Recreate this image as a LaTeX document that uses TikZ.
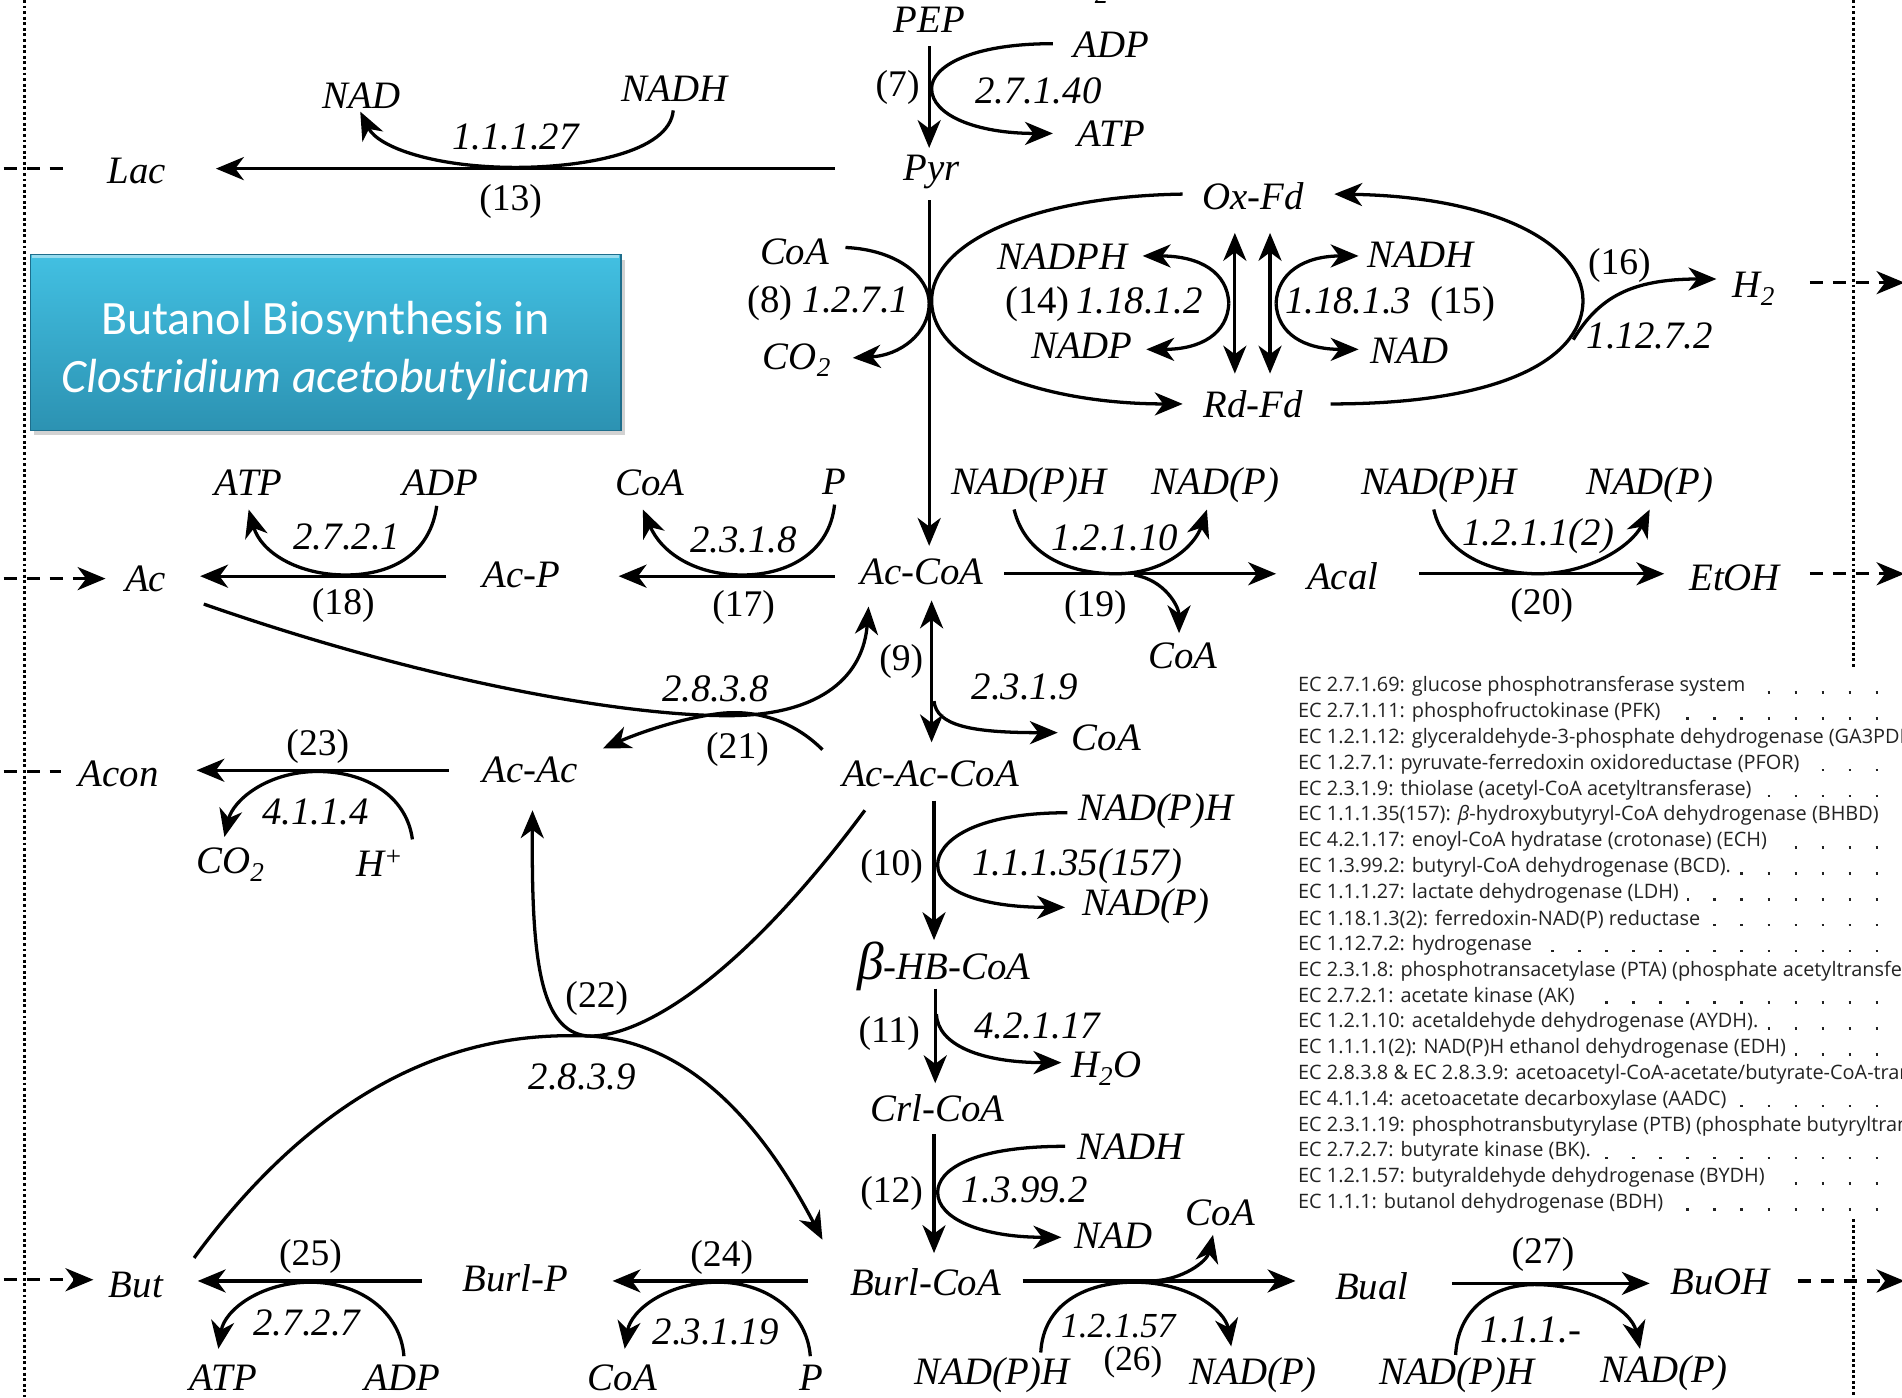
\documentclass[tikz,border=0pt]{standalone}
\usepackage{fontspec}
\setmainfont{Liberation Serif}
\newfontfamily\carl{Carlito}
\newfontfamily\osans{Open Sans}
\usetikzlibrary{arrows.meta,shadows}
\newcommand\lfont{\fontsize{32}{36}\selectfont\itshape}
\newcommand\nfont{\fontsize{31}{36}\selectfont\upshape}
\newcommand\legfont{\osans\fontsize{16.4}{19}\selectfont}
\definecolor{tealtop}{RGB}{66,192,226}
\definecolor{tealbot}{RGB}{44,146,178}
\definecolor{tealedge}{RGB}{30,110,140}
\definecolor{legtext}{RGB}{35,35,35}
\tikzset{
  >={Stealth[length=23pt,width=19pt,inset=7pt]},
  lab/.style={font=\lfont, inner sep=0pt},
  num/.style={font=\nfont, inner sep=0pt},
  ln/.style={line width=2.7pt},
  arr/.style={line width=2.7pt,->},
  darr/.style={line width=2.7pt,<->},
  dsh/.style={line width=2.7pt,dash pattern=on 11pt off 8pt},
  dsharr/.style={line width=2.7pt,dash pattern=on 11pt off 8pt,->},
  dotv/.style={line width=2.4pt,dash pattern=on 2.4pt off 2.2pt},
  ldots/.style={line width=2pt,dash pattern=on 2pt off 20.3pt,legtext},
  leg/.style={font=\legfont, text=legtext, fill=white, anchor=west, inner xsep=7pt, inner ysep=1pt},
}
\begin{document}
\begin{tikzpicture}[x=1pt,y=-1pt]
\useasboundingbox (0,0) rectangle (1568,1152);
\fill[white] (0,0) rectangle (1568,1152);
\clip (0,0) rectangle (1568,1152);

% vertical dotted boundaries
\draw[dotv] (20,0) coordinate (vl1) -- (20,1152) coordinate (vl2);
\draw[dotv] (1528,0) coordinate (vr1) -- (1528,550) coordinate (vr2);
\draw[dotv] (1528,1005) coordinate (vr3) -- (1528,1152) coordinate (vr4);

% title box
\node[draw=tealedge, line width=1pt, top color=tealtop, bottom color=tealbot,
      minimum width=487pt, minimum height=145pt, inner sep=0pt,
      drop shadow={opacity=0.35,shadow xshift=3pt,shadow yshift=-4pt}]
  (title) at (268.5,282.5) {};
\draw[white,opacity=0.45,line width=2pt] ([shift={(2pt,-2pt)}]title.north west) -- ([shift={(-2pt,-2pt)}]title.north east);
\node[text=white, align=center, font=\carl\fontsize{39.5}{48}\selectfont, inner sep=0pt]
  (titletext) at (268.5,289) {Butanol Biosynthesis in\\\textit{Clostridium acetobutylicum}};

% ---------- labels ----------
\node[lab,font=\fontsize{22}{22}\selectfont\itshape] (top2) at (908,-4) {2};
\node[lab] (pep) at (766,16) {PEP};
\node[lab] (adp7) at (916,37) {ADP};
\node[num] (r7) at (740,72) {(7)};
\node[lab] (ec7) at (856,75) {2.7.1.40};
\node[lab] (atp7) at (916,110) {ATP};
\node[lab] (pyr) at (768,142) {Pyr};
\node[lab] (nad13) at (298,79) {NAD};
\node[lab] (nadh13) at (556,73) {NADH};
\node[lab] (ec13) at (425,113) {1.1.1.27};
\node[lab] (lac) at (113,141) {Lac};
\node[num] (r13) at (421,166) {(13)};
\node[lab] (oxfd) at (1033,162) {Ox-Fd};
\node[lab] (rdfd) at (1033,333) {Rd-Fd};
\node[lab] (nadph14) at (876,212) {NADPH};
\node[lab] (nadp14) at (892,285) {NADP};
\node[lab] (ec14) at (910,251) {\upshape(14)\itshape\,1.18.1.2};
\node[lab] (nadh15) at (1171,210) {NADH};
\node[lab] (nad15) at (1162,289) {NAD};
\node[lab] (ec15) at (1146,251) {1.18.1.3\enspace\upshape(15)};
\node[num] (r16) at (1335,219) {(16)};
\node[lab] (h2) at (1446,238) {H\textsubscript{2}};
\node[lab] (ec16) at (1360,277) {1.12.7.2};
\node[lab] (coa8) at (655,208) {CoA};
\node[lab] (ec8) at (683,250) {\upshape(8)\itshape\ 1.2.7.1};
\node[lab] (co28) at (657,297) {CO\textsubscript{2}};

\node[lab] (accoa) at (760,471) {Ac-CoA};
\node[lab] (nadph19) at (848,400) {NAD(P)H};
\node[lab] (nadp19) at (1002,400) {NAD(P)};
\node[lab] (ec19) at (919,443) {1.2.1.10};
\node[num] (r19) at (903,501) {(19)};
\node[lab] (coa19) at (975,541) {CoA};
\node[lab] (acal) at (1107,475) {Acal};
\node[lab] (nadph20) at (1186,400) {NAD(P)H};
\node[lab] (nadp20) at (1360,400) {NAD(P)};
\node[lab] (ec20) at (1268,442) {1.2.1.1(2)};
\node[num] (r20) at (1271,499) {(20)};
\node[lab] (etoh) at (1430,476) {EtOH};
\node[lab] (ac) at (120,477) {Ac};
\node[lab] (atp18) at (205,398) {ATP};
\node[lab] (adp18) at (363,398) {ADP};
\node[lab] (ec18) at (286,443) {2.7.2.1};
\node[lab] (acp) at (430,474) {Ac-P};
\node[num] (r18) at (283,499) {(18)};
\node[lab] (coa17) at (536,398) {CoA};
\node[lab] (p17) at (688,397) {P};
\node[lab] (ec17) at (613,445) {2.3.1.8};
\node[num] (r17) at (613,501) {(17)};

\node[num] (r9) at (743,545) {(9)};
\node[lab] (ec9) at (845,566) {2.3.1.9};
\node[lab] (coa9) at (912,608) {CoA};
\node[lab] (acaccoa) at (767,638) {Ac-Ac-CoA};
\node[lab] (ec21) at (590,568) {2.8.3.8};
\node[num] (r21) at (608,618) {(21)};
\node[lab] (acac) at (437,635) {Ac-Ac};
\node[num] (r23) at (262,615) {(23)};
\node[lab] (acon) at (98,638) {Acon};
\node[lab] (ec23) at (260,669) {4.1.1.4};
\node[lab] (co223) at (190,713) {CO\textsubscript{2}};
\node[lab] (hp) at (313,712) {H\textsuperscript{+}};

\node[lab] (nadph10) at (953,669) {NAD(P)H};
\node[num] (r10) at (735,714) {(10)};
\node[lab] (ec10) at (888,714) {1.1.1.35(157)};
\node[lab] (nadp10) at (945,747) {NAD(P)};
\node[lab] (bhb) at (778,797) {{\fontsize{44}{44}\selectfont β}-HB-CoA};
\node[num] (r11) at (733,852) {(11)};
\node[lab] (ec11) at (855,846) {4.2.1.17};
\node[lab] (h2o) at (912,881) {H\textsubscript{2}O};
\node[lab] (crl) at (773,914) {Crl-CoA};
\node[lab] (nadh12) at (932,945) {NADH};
\node[num] (r12) at (735,984) {(12)};
\node[lab] (ec12) at (845,981) {1.3.99.2};
\node[lab] (nad12) at (918,1019) {NAD};
\node[lab] (coa26) at (1006,1000) {CoA};
\node[lab] (burlcoa) at (763,1057) {Burl-CoA};
\node[lab] (bual) at (1131,1060) {Bual};
\node[num] (r27) at (1272,1034) {(27)};
\node[lab] (buoh) at (1418,1057) {BuOH};
\node[lab,font=\fontsize{29}{32}\selectfont\itshape] (ec26) at (922,1093) {1.2.1.57};
\node[num,font=\fontsize{29}{32}\selectfont] (r26) at (934,1123) {(26)};
\node[lab] (nadph26) at (818,1134) {NAD(P)H};
\node[lab] (nadp26) at (1033,1134) {NAD(P)};
\node[lab] (ec27) at (1262,1096) {1.1.1.-};
\node[lab] (nadph27) at (1201,1134) {NAD(P)H};
\node[lab] (nadp27) at (1372,1132) {NAD(P)};
\node[num] (r22) at (492,823) {(22)};
\node[lab] (ec22) at (480,888) {2.8.3.9};
\node[lab] (but) at (112,1059) {But};
\node[num] (r25) at (256,1036) {(25)};
\node[lab] (burlp) at (425,1054) {Burl-P};
\node[num] (r24) at (595,1037) {(24)};
\node[lab] (ec25) at (253,1091) {2.7.2.7};
\node[lab] (atp25) at (184,1136) {ATP};
\node[lab] (adp25) at (332,1136) {ADP};
\node[lab] (ec24) at (590,1098) {2.3.1.19};
\node[lab] (coa24) at (513,1136) {CoA};
\node[lab] (p24) at (669,1136) {P};

% ---------- main arrows ----------
\draw[arr] (766,38) coordinate (pepS) -- (766,122) coordinate (pyrN);
\draw[arr] (688,139) coordinate (pyrW) -- (178,139) coordinate (lacE);
\draw[arr] (766,165) coordinate (pyrS) -- (766,450) coordinate (accoaN);
\draw[arr] (828,473) coordinate (accoaE) -- (1052,473) coordinate (acalW);
\draw[arr] (1170,473) coordinate (acalE) -- (1372,473) coordinate (etohW);
\draw[arr] (688,475) coordinate (accoaW) -- (510,475) coordinate (acpE);
\draw[arr] (368,475) coordinate (acpW) -- (165,475) coordinate (acE);
\draw[darr] (768,495) coordinate (accoaS) -- (768,612) coordinate (acaccoaN);
\draw[arr] (370,635) coordinate (acacW) -- (162,635) coordinate (aconE);
\draw[arr] (770,660) coordinate (acaccoaS) -- (770,775) coordinate (bhbN);
\draw[arr] (771,815) coordinate (bhbS) -- (771,893) coordinate (crlN);
\draw[arr] (770,935) coordinate (crlS) -- (770,1033) coordinate (burlN);
\draw[arr] (843,1056) coordinate (burlE) -- (1068,1056) coordinate (bualW);
\draw[arr] (1197,1058) coordinate (bualE) -- (1360,1058) coordinate (buohW);
\draw[arr] (666,1056) coordinate (burlW) -- (505,1056) coordinate (burlpE);
\draw[arr] (348,1056) coordinate (burlpW) -- (163,1056) coordinate (butE);

% ---------- side reactions ----------
% (7)
\draw[arr] (868,36) coordinate (s7a) .. controls (800,36) and (768,55) .. (768,73) .. controls (768,95) and (805,110) .. (868,110) coordinate (s7b);
% (13)
\draw[arr] (555,91) coordinate (s13a) .. controls (552,126) and (480,138) .. (425,138) .. controls (360,138) and (312,122) .. (297,92) coordinate (s13b);
% (8)
\draw[arr] (697,204) coordinate (s8a) .. controls (740,206) and (766,228) .. (766,250) .. controls (766,275) and (742,293) .. (703,295) coordinate (s8b);
% ferredoxin cycle
\draw[arr] (975,160) coordinate (oxW) .. controls (850,162) and (768,200) .. (768,248) .. controls (768,300) and (860,333) .. (975,333) coordinate (rdW);
\draw[arr] (1097,333) coordinate (rdE) .. controls (1250,333) and (1305,290) .. (1305,248) .. controls (1305,200) and (1230,162) .. (1100,160) coordinate (oxE);
\draw[arr] (1297,280) coordinate (s16a) .. controls (1318,245) and (1345,230) .. (1415,230) coordinate (h2W);
\draw[darr] (1018,192) coordinate (d1a) -- (1018,308) coordinate (d1b);
\draw[darr] (1047,192) coordinate (d2a) -- (1047,308) coordinate (d2b);
\draw[arr] (1013,250) coordinate (s14) .. controls (1012,225) and (990,211) .. (942,211) coordinate (s14a);
\draw[arr] (s14) .. controls (1012,275) and (990,288) .. (945,288) coordinate (s14b);
\draw[arr] (1052,250) coordinate (s15) .. controls (1053,225) and (1075,211) .. (1120,211) coordinate (s15a);
\draw[arr] (s15) .. controls (1053,275) and (1075,288) .. (1120,288) coordinate (s15b);
% (19)
\draw[arr] (836,420) coordinate (s19a) .. controls (845,457) and (880,473) .. (920,473) .. controls (960,473) and (985,450) .. (995,420) coordinate (s19b);
\draw[arr] (935,474) coordinate (s19c) .. controls (960,478) and (972,500) .. (972,522) coordinate (s19d);
% (20)
\draw[arr] (1182,420) coordinate (s20a) .. controls (1190,457) and (1230,473) .. (1268,473) .. controls (1310,473) and (1345,450) .. (1360,420) coordinate (s20b);
% (17)
\draw[arr] (688,416) coordinate (s17a) .. controls (684,455) and (650,474) .. (612,474) .. controls (572,474) and (545,455) .. (530,420) coordinate (s17b);
% (18)
\draw[arr] (360,417) coordinate (s18a) .. controls (355,455) and (325,474) .. (285,474) .. controls (245,474) and (215,455) .. (205,420) coordinate (s18b);
% (9)
\draw[arr] (770,578) coordinate (s9a) .. controls (772,598) and (800,604) .. (872,604) coordinate (s9b);
% (21)
\draw[arr] (168,498) coordinate (s21a) .. controls (360,565) and (520,590) .. (600,590) .. controls (680,590) and (712,555) .. (716,500) coordinate (s21b);
\draw[arr] (678,618) coordinate (s21c) .. controls (655,595) and (625,585) .. (595,588) .. controls (560,592) and (525,605) .. (497,617) coordinate (s21d);
% (23)
\draw[arr] (340,692) coordinate (s23a) .. controls (335,655) and (300,636) .. (262,636) .. controls (220,636) and (192,660) .. (185,690) coordinate (s23b);
% (10)
\draw[arr] (880,670) coordinate (s10a) .. controls (800,670) and (773,695) .. (773,713) .. controls (773,735) and (810,748) .. (878,748) coordinate (s10b);
% (11)
\draw[arr] (772,836) coordinate (s11a) .. controls (773,862) and (810,876) .. (875,876) coordinate (s11b);
% (12)
\draw[arr] (878,945) coordinate (s12a) .. controls (800,945) and (773,965) .. (773,983) .. controls (773,1005) and (810,1020) .. (875,1020) coordinate (s12b);
% (26)
\draw[arr] (858,1115) coordinate (s26a) .. controls (860,1075) and (895,1057) .. (935,1057) .. controls (980,1057) and (1010,1080) .. (1015,1110) coordinate (s26b);
\draw[arr] (950,1056) coordinate (s26c) .. controls (975,1055) and (995,1040) .. (1000,1018) coordinate (s26d);
% (27)
\draw[arr] (1200,1117) coordinate (s27a) .. controls (1202,1078) and (1232,1059) .. (1265,1059) .. controls (1310,1059) and (1345,1080) .. (1352,1112) coordinate (s27b);
% (24)
\draw[arr] (668,1118) coordinate (s24a) .. controls (665,1080) and (630,1057) .. (592,1057) .. controls (550,1057) and (520,1080) .. (515,1112) coordinate (s24b);
% (25)
\draw[arr] (333,1118) coordinate (s25a) .. controls (330,1080) and (295,1057) .. (256,1057) .. controls (215,1057) and (185,1080) .. (180,1112) coordinate (s25b);
% (22)
\draw[arr] (713,668) coordinate (s22a) .. controls (600,820) and (520,856) .. (484,854) .. controls (445,850) and (438,790) .. (439,668) coordinate (s22b);
\draw[arr] (160,1037) coordinate (s22c) .. controls (290,860) and (420,852) .. (484,854) .. controls (570,858) and (630,930) .. (678,1022) coordinate (s22d);

% ---------- dashed exchange arrows ----------
\draw[dsh] (3,139) coordinate (xl1) -- (60,139) coordinate (xl2);
\draw[dsharr] (3,477) coordinate (xa1) -- (87,477) coordinate (xa2);
\draw[dsh] (3,636) coordinate (xc1) -- (50,636) coordinate (xc2);
\draw[dsharr] (3,1055) coordinate (xb1) -- (77,1055) coordinate (xb2);
\draw[dsharr] (1492,233) coordinate (xh1) -- (1570,233) coordinate (xh2);
\draw[dsharr] (1492,473) coordinate (xe1) -- (1570,473) coordinate (xe2);
\draw[dsharr] (1482,1056) coordinate (xo1) -- (1570,1056) coordinate (xo2);

% ---------- legend ----------
\foreach \yy in {566,587.3,608.6,629.9,651.2,672.5,693.8,715.1,736.4,757.7,779,800.3,821.6,842.9,864.2,885.5,906.8,928.1,949.4,970.7,992}
  \draw[ldots] (1078,\yy+5) -- (1580,\yy+5);
\node[leg] (e1) at (1063,566) {EC 2.7.1.69: glucose phosphotransferase system};
\node[leg] (e2) at (1063,587.3) {EC 2.7.1.11: phosphofructokinase (PFK)};
\node[leg] (e3) at (1063,608.6) {EC 1.2.1.12: glyceraldehyde-3-phosphate dehydrogenase (GA3PDH)};
\node[leg] (e4) at (1063,629.9) {EC 1.2.7.1: pyruvate-ferredoxin oxidoreductase (PFOR)};
\node[leg] (e5) at (1063,651.2) {EC 2.3.1.9: thiolase (acetyl-CoA acetyltransferase)};
\node[leg] (e6) at (1063,672.5) {EC 1.1.1.35(157): \textit{β}-hydroxybutyryl-CoA dehydrogenase (BHBD)};
\node[leg] (e7) at (1063,693.8) {EC 4.2.1.17: enoyl-CoA hydratase (crotonase) (ECH)};
\node[leg] (e8) at (1063,715.1) {EC 1.3.99.2: butyryl-CoA dehydrogenase (BCD).};
\node[leg] (e9) at (1063,736.4) {EC 1.1.1.27: lactate dehydrogenase (LDH)};
\node[leg] (e10) at (1063,757.7) {EC 1.18.1.3(2): ferredoxin-NAD(P) reductase};
\node[leg] (e11) at (1063,779) {EC 1.12.7.2: hydrogenase};
\node[leg] (e12) at (1063,800.3) {EC 2.3.1.8: phosphotransacetylase (PTA) (phosphate acetyltransferase)};
\node[leg] (e13) at (1063,821.6) {EC 2.7.2.1: acetate kinase (AK)};
\node[leg] (e14) at (1063,842.9) {EC 1.2.1.10: acetaldehyde dehydrogenase (AYDH).};
\node[leg] (e15) at (1063,864.2) {EC 1.1.1.1(2): NAD(P)H ethanol dehydrogenase (EDH)};
\node[leg] (e16) at (1063,885.5) {EC 2.8.3.8 \& EC 2.8.3.9: acetoacetyl-CoA-acetate/butyrate-CoA-transferase};
\node[leg] (e17) at (1063,906.8) {EC 4.1.1.4: acetoacetate decarboxylase (AADC)};
\node[leg] (e18) at (1063,928.1) {EC 2.3.1.19: phosphotransbutyrylase (PTB) (phosphate butyryltransferase)};
\node[leg] (e19) at (1063,949.4) {EC 2.7.2.7: butyrate kinase (BK).};
\node[leg] (e20) at (1063,970.7) {EC 1.2.1.57: butyraldehyde dehydrogenase (BYDH)};
\node[leg] (e21) at (1063,992) {EC 1.1.1: butanol dehydrogenase (BDH)};
\end{tikzpicture}
\end{document}
